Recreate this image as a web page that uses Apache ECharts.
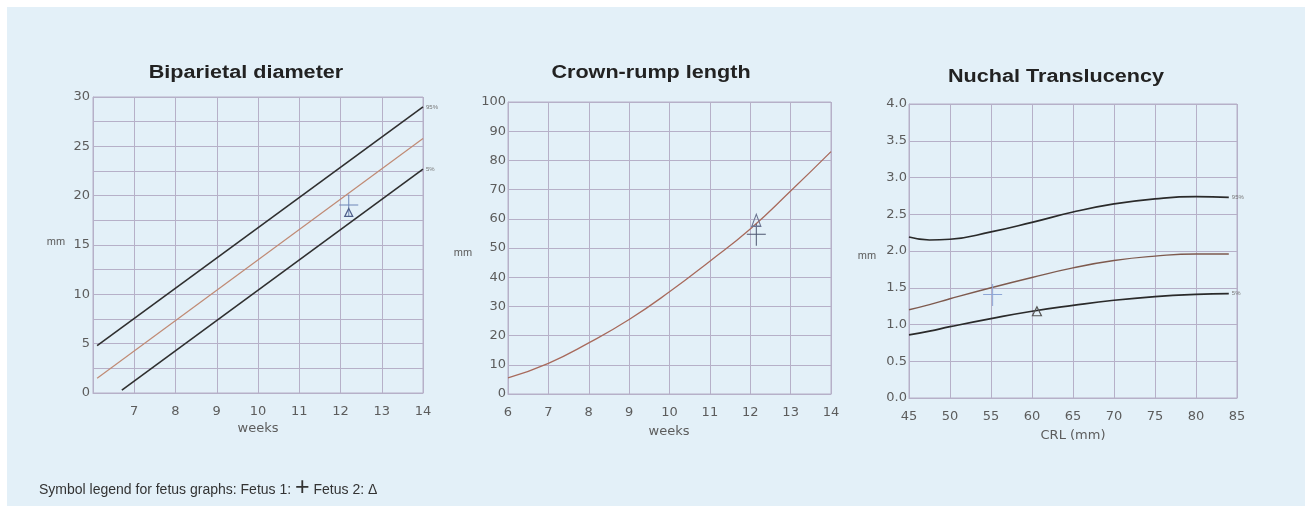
<!DOCTYPE html>
<html>
<head>
<meta charset="utf-8">
<script src="https://cdn.jsdelivr.net/npm/echarts@6/dist/echarts.min.js"></script>
<style>
html,body{margin:0;padding:0;background:#ffffff;width:1305px;height:506px;overflow:hidden;}
#panel{position:absolute;left:7px;top:7px;width:1298px;height:499px;background:#e3f0f8;}
#chart{position:absolute;left:0;top:0;width:1305px;height:506px;}
</style>
</head>
<body>
<div id="panel"></div>
<div id="chart"></div>
<script>
// ---- Biparietal diameter (mm) vs weeks ----
const bpdWeeks95 = [6.1, 14];
const bpd95 = [4.8, 29.0];
const bpdWeeks50 = [6.1, 14];
const bpd50 = [1.5, 25.8];
const bpdWeeks5 = [6.7, 14];
const bpd5 = [0.3, 22.7];
const bpdFetus1 = [12.2, 19.0];
const bpdFetus2 = [12.2, 18.3];

// ---- Crown-rump length (mm) vs weeks ----
const crlWeeks = [6, 7, 8, 9, 10, 11, 12, 13, 14];
const crlMedian = [5.5, 10.5, 17.5, 25.5, 35, 45.5, 56.5, 69.5, 83];
const crlFetus1 = [12.15, 54.5];
const crlFetus2 = [12.15, 59.5];

// ---- Nuchal translucency (mm) vs CRL (mm) ----
const ntCRL = [45, 47.5, 50, 55, 60, 65, 70, 75, 80, 84];
const nt95 = [2.19, 2.15, 2.16, 2.26, 2.39, 2.53, 2.64, 2.71, 2.74, 2.73];
const nt50 = [1.20, 1.27, 1.35, 1.50, 1.64, 1.77, 1.87, 1.93, 1.96, 1.96];
const nt5 = [0.86, 0.91, 0.97, 1.08, 1.18, 1.26, 1.33, 1.38, 1.41, 1.42];
const ntFetus1 = [55.2, 1.40];
const ntFetus2 = [60.6, 1.18];

const titles = ['Biparietal diameter', 'Crown-rump length', 'Nuchal Translucency'];
const xNames = ['weeks', 'weeks', 'CRL (mm)'];

const zip = (xs, ys) => xs.map((x, i) => [x, ys[i]]);

const FONT = '"Liberation Sans", Arial, sans-serif';
const TICKFONT = '"DejaVu Sans", sans-serif';
const GRIDC = '#b6b0c8';
const LABELC = '#5c5c5c';
const CROSS = 'path://M9,0 H10 V10 H19 V11 H10 V22 H9 V11 H0 V10 H9 Z';

const grids = [
  {left: 93, top: 97, width: 330, height: 296},
  {left: 508, top: 102, width: 323, height: 292},
  {left: 909, top: 104, width: 328, height: 294}
].map(g => Object.assign(g, {show: true, borderColor: GRIDC, borderWidth: 1, backgroundColor: 'transparent'}));

function axis(i, min, max, interval, fmt, margin) {
  return {
    type: 'value', gridIndex: i, min, max, interval,
    axisLine: {show: true, lineStyle: {color: GRIDC}},
    axisTick: {show: false},
    splitLine: {show: true, lineStyle: {color: GRIDC, width: 1}},
    axisLabel: {color: LABELC, fontSize: 13, fontFamily: TICKFONT, margin, formatter: fmt}
  };
}

function line(i, data, color, width, label) {
  const s = {
    type: 'line', xAxisIndex: i, yAxisIndex: i, data, smooth: true,
    showSymbol: false, symbol: 'none',
    lineStyle: {color, width}, z: 3
  };
  if (label) {
    s.endLabel = {show: true, formatter: label, fontSize: 6, color: '#777', distance: 3, fontFamily: FONT};
  }
  return s;
}
function cross(i, pt, color) {
  return {type: 'scatter', xAxisIndex: i, yAxisIndex: i, data: [pt], symbol: CROSS, symbolSize: [19, 22],
    itemStyle: {color, opacity: 1}, z: 5};
}
function tri(i, pt, color, size) {
  return {type: 'scatter', xAxisIndex: i, yAxisIndex: i, data: [pt], symbol: 'triangle', symbolSize: size,
    itemStyle: {color: 'rgba(0,0,0,0)', borderColor: color, borderWidth: 1.2, opacity: 1}, z: 5};
}

const txt = (x, y, t, font, fill, extra) => Object.assign({type: 'text', x, y, silent: true,
  style: {text: t, fill: fill || LABELC, font, textAlign: 'center', textVerticalAlign: 'middle'}}, extra || {});

const option = {
  animation: false,
  backgroundColor: 'transparent',
  grid: grids,
  xAxis: [
    axis(0, 6, 14, 1, v => (v === 6 ? '' : v), 12),
    axis(1, 6, 14, 1, v => v, 12),
    axis(2, 45, 85, 5, v => v, 12)
  ],
  yAxis: [
    axis(0, 0, 30, 2.5, v => (v % 5 === 0 ? v : ''), 3),
    axis(1, 0, 100, 10, v => v, 2),
    axis(2, 0, 4, 0.5, v => v.toFixed(1), 2)
  ],
  series: [
    line(0, zip(bpdWeeks95, bpd95), '#2f2f2f', 1.6, '95%'),
    line(0, zip(bpdWeeks50, bpd50), '#c08a74', 1.2),
    line(0, zip(bpdWeeks5, bpd5), '#2f2f2f', 1.6, '5%'),
    cross(0, bpdFetus1, '#6f86b8'),
    tri(0, bpdFetus2, '#4f5f8a', [8, 8]),

    line(1, zip(crlWeeks, crlMedian), '#a86a5c', 1.3),
    cross(1, crlFetus1, '#4d5670'),
    tri(1, crlFetus2, '#6a7390', [9, 12]),

    line(2, zip(ntCRL, nt95), '#2a2a2a', 1.7, '95%'),
    line(2, zip(ntCRL, nt50), '#7e5a4e', 1.4),
    line(2, zip(ntCRL, nt5), '#2a2a2a', 1.7, '5%'),
    cross(2, ntFetus1, '#8ea6d6'),
    tri(2, ntFetus2, '#555555', [9, 9])
  ],
  graphic: [
    txt(246, 73, titles[0], 'bold 18px ' + FONT, '#222', {scaleX: 1.2}),
    txt(651, 73, titles[1], 'bold 18px ' + FONT, '#222', {scaleX: 1.2}),
    txt(1056, 77, titles[2], 'bold 18px ' + FONT, '#222', {scaleX: 1.2}),
    txt(258, 429, xNames[0], '13px ' + TICKFONT),
    txt(669, 432, xNames[1], '13px ' + TICKFONT),
    txt(1073, 436, xNames[2], '13px ' + TICKFONT),
    txt(56, 242, 'mm', '11px ' + FONT),
    txt(463, 253, 'mm', '11px ' + FONT),
    txt(867, 256, 'mm', '11px ' + FONT),
    {type: 'text', x: 39, y: 490, silent: true,
      style: {
        text: 'Symbol legend for fetus graphs: Fetus 1: {p|+} Fetus 2: Δ',
        fill: '#333', font: '14px ' + FONT, textVerticalAlign: 'middle',
        rich: {p: {fontSize: 25, fontFamily: FONT, fill: '#333', padding: [0, 0, 4, 0]}}
      }}
  ]
};

const chart = echarts.init(document.getElementById('chart'), null, {renderer: 'canvas'});
chart.setOption(option);
</script>
</body>
</html>
